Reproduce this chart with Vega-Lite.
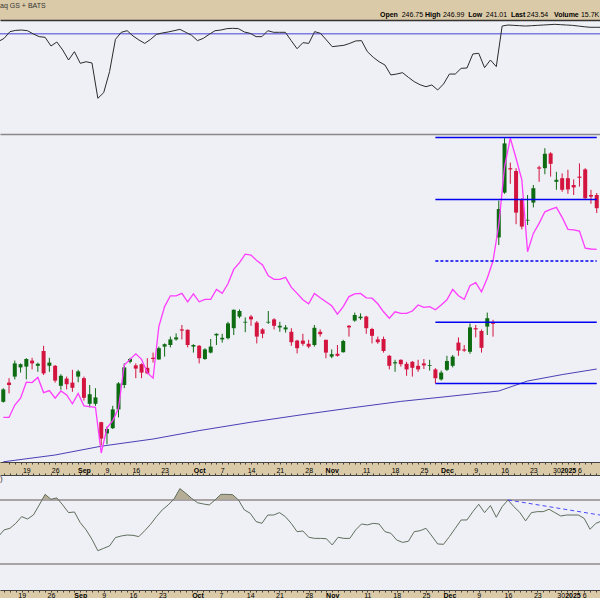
{
"$schema": "https://vega.github.io/schema/vega-lite/v6.json",
"background": "#dacaa8",
"padding": {"left": -1, "top": 0, "right": 0, "bottom": 0},
"config": {"view": {"stroke": null}, "font": "Liberation Sans", "axis": {"grid": false}},
"datasets": {
"days": [
{"i":0,"o":193.3,"h":196.7,"l":193.1,"c":196.4,"rel":189.4,"s":81.0,"r":47.1},
{"i":1,"o":198.1,"h":199.2,"l":195.4,"c":197.5,"rel":189.4,"s":83.9,"r":51.3},
{"i":2,"o":199.6,"h":203.6,"l":198.9,"c":202.9,"rel":192.5,"s":89.8,"r":52.3},
{"i":3,"o":201.9,"h":202.9,"l":200.6,"c":202.7,"rel":194.2,"s":90.9,"r":55.4},
{"i":4,"o":202.1,"h":204.2,"l":198.9,"c":204.0,"rel":198.2,"s":91.2,"r":59.6},
{"i":5,"o":203.6,"h":204.3,"l":201.4,"c":202.9,"rel":198.1,"s":90.6,"r":58.1},
{"i":6,"o":202.3,"h":203.1,"l":200.8,"c":202.8,"rel":199.4,"s":87.7,"r":60.6},
{"i":7,"o":206.0,"h":207.3,"l":200.0,"c":200.4,"rel":195.6,"s":85.4,"r":66.9},
{"i":8,"o":202.3,"h":204.3,"l":200.8,"c":203.1,"rel":196.1,"s":84.8,"r":73.5},
{"i":9,"o":202.3,"h":202.5,"l":198.1,"c":198.6,"rel":194.2,"s":77.2,"r":70.4},
{"i":10,"o":197.3,"h":200.2,"l":196.3,"c":199.8,"rel":196.0,"s":80.7,"r":71.3},
{"i":11,"o":199.1,"h":199.6,"l":196.4,"c":197.7,"rel":195.0,"s":73.7,"r":66.9},
{"i":12,"o":198.1,"h":201.3,"l":195.8,"c":196.8,"rel":192.8,"s":64.9,"r":62.1},
{"i":13,"o":199.6,"h":201.3,"l":198.2,"c":200.9,"rel":195.4,"s":72.2,"r":62.5},
{"i":14,"o":199.2,"h":199.6,"l":193.6,"c":194.3,"rel":192.3,"s":62.0,"r":55.8},
{"i":15,"o":192.8,"h":197.5,"l":191.9,"c":195.2,"rel":192.1,"s":63.4,"r":51.3},
{"i":16,"o":192.8,"h":196.7,"l":192.3,"c":194.4,"rel":191.9,"s":62.3,"r":45.4},
{"i":17,"o":188.2,"h":188.3,"l":182.5,"c":184.1,"rel":180.5,"s":31.3,"r":38.3},
{"i":18,"o":185.4,"h":187.1,"l":182.7,"c":186.5,"rel":186.8,"s":36.3,"r":39.8},
{"i":19,"o":186.7,"h":192.3,"l":186.5,"c":191.4,"rel":188.6,"s":54.7,"r":41.3},
{"i":20,"o":191.4,"h":198.2,"l":189.4,"c":197.9,"rel":191.7,"s":83.0,"r":46.5},
{"i":21,"o":197.5,"h":202.9,"l":196.7,"c":201.9,"rel":202.5,"s":89.2,"r":47.5},
{"i":22,"o":203.3,"h":204.3,"l":202.9,"c":204.0,"rel":203.9,"s":90.6,"r":48.1},
{"i":23,"o":202.4,"h":202.9,"l":199.2,"c":201.6,"rel":205.3,"s":86.0,"r":47.9},
{"i":24,"o":202.7,"h":202.9,"l":199.2,"c":200.6,"rel":203.9,"s":82.5,"r":47.1},
{"i":25,"o":201.8,"h":204.2,"l":200.2,"c":200.4,"rel":200.6,"s":79.5,"r":50.8},
{"i":26,"o":204.3,"h":205.6,"l":203.1,"c":204.0,"rel":199.2,"s":83.0,"r":54.8},
{"i":27,"o":203.9,"h":207.1,"l":203.8,"c":206.7,"rel":212.1,"s":87.4,"r":59.6},
{"i":28,"o":207.1,"h":207.9,"l":204.6,"c":207.7,"rel":217.1,"s":88.6,"r":63.8},
{"i":29,"o":207.5,"h":209.6,"l":206.9,"c":208.9,"rel":219.8,"s":89.5,"r":66.9},
{"i":30,"o":208.9,"h":210.4,"l":208.6,"c":209.4,"rel":219.8,"s":90.6,"r":70.6},
{"i":31,"o":211.4,"h":212.5,"l":208.9,"c":211.1,"rel":220.4,"s":91.8,"r":77.1},
{"i":32,"o":211.3,"h":211.4,"l":206.9,"c":207.5,"rel":218.3,"s":89.2,"r":74.2},
{"i":33,"o":207.1,"h":207.7,"l":205.6,"c":207.5,"rel":220.3,"s":86.6,"r":71.0},
{"i":34,"o":207.3,"h":207.5,"l":202.9,"c":204.2,"rel":218.3,"s":81.9,"r":68.3},
{"i":35,"o":204.0,"h":206.7,"l":203.8,"c":206.4,"rel":218.9,"s":83.9,"r":67.5},
{"i":36,"o":205.6,"h":209.0,"l":205.4,"c":207.1,"rel":218.9,"s":87.4,"r":66.9},
{"i":37,"o":209.9,"h":210.4,"l":207.5,"c":210.3,"rel":221.4,"s":90.6,"r":70.0},
{"i":38,"o":208.9,"h":210.3,"l":208.1,"c":209.3,"rel":220.4,"s":91.2,"r":73.5},
{"i":39,"o":209.2,"h":213.3,"l":208.9,"c":212.9,"rel":222.8,"s":92.4,"r":73.5},
{"i":40,"o":211.7,"h":216.4,"l":210.0,"c":216.3,"rel":226.4,"s":92.7,"r":73.3},
{"i":41,"o":214.6,"h":216.4,"l":214.2,"c":216.0,"rel":228.1,"s":92.4,"r":70.0},
{"i":42,"o":213.1,"h":214.4,"l":210.7,"c":213.3,"rel":230.2,"s":89.5,"r":63.8},
{"i":43,"o":214.6,"h":215.0,"l":212.3,"c":213.9,"rel":230.0,"s":88.3,"r":61.7},
{"i":44,"o":213.1,"h":213.5,"l":207.9,"c":209.6,"rel":228.6,"s":85.4,"r":56.5},
{"i":45,"o":211.4,"h":211.7,"l":209.2,"c":210.3,"rel":227.5,"s":85.4,"r":55.4},
{"i":46,"o":213.1,"h":216.0,"l":212.8,"c":213.3,"rel":224.8,"s":90.6,"r":60.6},
{"i":47,"o":213.9,"h":214.2,"l":211.4,"c":212.3,"rel":223.9,"s":89.2,"r":60.6},
{"i":48,"o":211.9,"h":213.3,"l":210.8,"c":212.3,"rel":223.9,"s":89.2,"r":62.1},
{"i":49,"o":211.4,"h":212.5,"l":210.6,"c":211.9,"rel":224.4,"s":89.2,"r":59.6},
{"i":50,"o":210.8,"h":211.7,"l":207.3,"c":208.2,"rel":221.9,"s":81.9,"r":55.4},
{"i":51,"o":208.6,"h":208.8,"l":205.4,"c":206.7,"rel":220.4,"s":74.8,"r":50.2},
{"i":52,"o":208.6,"h":210.3,"l":207.3,"c":207.8,"rel":218.8,"s":80.1,"r":50.6},
{"i":53,"o":207.8,"h":208.8,"l":206.7,"c":207.1,"rel":217.8,"s":79.5,"r":46.7},
{"i":54,"o":207.5,"h":212.5,"l":207.1,"c":211.8,"rel":220.4,"s":89.8,"r":46.0},
{"i":55,"o":210.8,"h":211.4,"l":209.6,"c":210.2,"rel":219.3,"s":88.3,"r":46.0},
{"i":56,"o":208.8,"h":208.8,"l":204.2,"c":205.6,"rel":218.3,"s":82.5,"r":45.8},
{"i":57,"o":204.6,"h":206.4,"l":204.2,"c":205.2,"rel":217.3,"s":76.6,"r":41.9},
{"i":58,"o":205.3,"h":207.5,"l":204.6,"c":204.8,"rel":215.2,"s":77.2,"r":46.7},
{"i":59,"o":205.7,"h":208.8,"l":205.6,"c":208.5,"rel":217.1,"s":77.8,"r":46.0},
{"i":60,"o":212.3,"h":212.5,"l":209.6,"c":211.9,"rel":219.6,"s":79.5,"r":46.0},
{"i":61,"o":213.6,"h":215.6,"l":213.3,"c":215.0,"rel":220.3,"s":81.6,"r":51.3},
{"i":62,"o":214.2,"h":215.4,"l":213.8,"c":214.6,"rel":220.4,"s":81.9,"r":55.0},
{"i":63,"o":214.6,"h":214.8,"l":210.3,"c":211.7,"rel":219.3,"s":72.2,"r":54.4},
{"i":64,"o":211.5,"h":211.8,"l":207.9,"c":209.8,"rel":219.2,"s":67.3,"r":55.4},
{"i":65,"o":208.9,"h":209.6,"l":207.8,"c":208.2,"rel":217.8,"s":63.4,"r":55.0},
{"i":66,"o":209.0,"h":209.6,"l":205.6,"c":206.0,"rel":215.8,"s":60.5,"r":50.2},
{"i":67,"o":204.8,"h":205.0,"l":201.4,"c":202.3,"rel":214.2,"s":51.8,"r":49.2},
{"i":68,"o":202.9,"h":203.8,"l":200.8,"c":203.2,"rel":215.8,"s":52.6,"r":45.0},
{"i":69,"o":203.8,"h":203.9,"l":202.1,"c":202.7,"rel":215.4,"s":53.8,"r":43.5},
{"i":70,"o":202.8,"h":203.3,"l":199.8,"c":201.4,"rel":215.4,"s":49.7,"r":44.2},
{"i":71,"o":203.3,"h":203.5,"l":199.6,"c":201.8,"rel":216.0,"s":45.9,"r":50.2},
{"i":72,"o":202.3,"h":203.8,"l":200.8,"c":201.4,"rel":217.5,"s":43.2,"r":50.8},
{"i":73,"o":202.9,"h":204.0,"l":201.5,"c":202.4,"rel":216.9,"s":41.5,"r":52.3},
{"i":74,"o":202.3,"h":203.8,"l":201.1,"c":202.5,"rel":217.1,"s":43.0,"r":47.5},
{"i":75,"o":201.4,"h":201.7,"l":197.9,"c":199.2,"rel":216.3,"s":38.6,"r":42.5},
{"i":76,"o":198.9,"h":201.1,"l":198.6,"c":200.6,"rel":217.5,"s":43.9,"r":42.3},
{"i":77,"o":201.3,"h":204.8,"l":201.0,"c":203.5,"rel":218.8,"s":52.6,"r":47.1},
{"i":78,"o":202.3,"h":205.0,"l":201.9,"c":204.6,"rel":221.4,"s":52.6,"r":52.3},
{"i":79,"o":208.1,"h":209.4,"l":204.8,"c":206.1,"rel":219.8,"s":57.6,"r":57.5},
{"i":80,"o":206.4,"h":207.5,"l":205.8,"c":206.1,"rel":218.9,"s":57.9,"r":57.5},
{"i":81,"o":205.8,"h":212.9,"l":205.3,"c":211.9,"rel":222.3,"s":70.2,"r":62.7},
{"i":82,"o":211.7,"h":212.5,"l":209.4,"c":211.4,"rel":223.1,"s":70.8,"r":67.3},
{"i":83,"o":211.0,"h":211.4,"l":205.6,"c":206.8,"rel":220.8,"s":58.2,"r":62.1},
{"i":84,"o":212.1,"h":215.6,"l":210.0,"c":214.2,"rel":224.2,"s":64.9,"r":66.5},
{"i":85,"o":213.1,"h":213.8,"l":209.6,"c":212.8,"rel":228.5,"s":59.1,"r":59.2},
{"i":86,"o":234.4,"h":243.6,"l":232.5,"c":241.5,"rel":237.5,"s":94.7,"r":65.8},
{"i":87,"o":245.6,"h":259.2,"l":245.3,"c":257.9,"rel":252.0,"s":95.6,"r":70.0},
{"i":88,"o":251.7,"h":253.1,"l":247.8,"c":251.4,"rel":259.2,"s":95.3,"r":65.8},
{"i":89,"o":251.0,"h":251.7,"l":237.7,"c":240.6,"rel":254.2,"s":95.0,"r":62.3},
{"i":90,"o":243.8,"h":244.2,"l":236.4,"c":237.1,"rel":248.8,"s":94.7,"r":56.9},
{"i":91,"o":238.6,"h":245.0,"l":237.5,"c":238.8,"rel":230.8,"s":95.0,"r":62.1},
{"i":92,"o":243.1,"h":247.5,"l":241.9,"c":246.7,"rel":235.4,"s":95.3,"r":62.7},
{"i":93,"o":251.9,"h":252.3,"l":248.3,"c":251.6,"rel":237.9,"s":95.6,"r":62.7},
{"i":94,"o":251.7,"h":256.7,"l":250.2,"c":255.3,"rel":240.8,"s":95.9,"r":64.2},
{"i":95,"o":255.4,"h":255.7,"l":249.6,"c":252.8,"rel":241.4,"s":96.2,"r":62.1},
{"i":96,"o":248.3,"h":250.8,"l":246.3,"c":248.8,"rel":241.9,"s":95.9,"r":60.0},
{"i":97,"o":249.2,"h":250.4,"l":245.8,"c":246.3,"rel":239.4,"s":95.6,"r":60.6},
{"i":98,"o":249.2,"h":251.3,"l":245.3,"c":246.4,"rel":236.4,"s":95.3,"r":60.6},
{"i":99,"o":247.5,"h":248.9,"l":245.0,"c":246.9,"rel":236.3,"s":94.7,"r":60.6},
{"i":100,"o":249.6,"h":252.9,"l":247.1,"c":249.3,"rel":236.0,"s":94.1,"r":58.5},
{"i":101,"o":251.4,"h":251.7,"l":243.8,"c":244.2,"rel":231.7,"s":93.6,"r":51.7},
{"i":102,"o":245.0,"h":246.3,"l":242.8,"c":244.6,"rel":231.5,"s":93.6,"r":55.4},
{"i":103,"o":245.0,"h":245.5,"l":240.5,"c":241.7,"rel":231.4,"s":93.6,"r":56.9}
],
"ma": [{"i":0,"ma":178.3},{"i":9,"ma":180.0},{"i":17,"ma":182.2},{"i":26,"ma":184.0},{"i":34,"ma":186.1},{"i":43,"ma":188.2},{"i":52,"ma":190.1},{"i":60,"ma":191.7},{"i":69,"ma":193.4},{"i":77,"ma":194.6},{"i":86,"ma":196.0},{"i":91,"ma":198.5},{"i":97,"ma":200.1},{"i":103,"ma":201.5}],
"levels": [{"p":259.4},{"p":243.9},{"p":213.2},{"p":197.9}],
"mid": [{"p":228.5}],
"ob": [{"r":70},{"r":30}],
"trend": [{"i":87,"r":70.0},{"i":103,"r":60.4}],
"one": [{}]
},
"vconcat": [
{
"width": 600, "height": 20,
"view": {"stroke": null},
"data": {"name": "one"},
"layer": [
{"mark": {"type":"text","align":"left","baseline":"middle","fontSize":7,"color":"#333"},
 "encoding": {"x": {"datum": 0.31, "type":"quantitative","scale":{"domain":[0.3,102.7],"nice":false,"zero":false},"axis":null},
  "y": {"datum": 6, "type":"quantitative","scale":{"domain":[0,20],"reverse":true,"nice":false,"zero":false},"axis":null},
  "text": {"value": "aq GS + BATS"}}},
{"mark": {"type":"text","align":"left","baseline":"middle","fontSize":7,"fontWeight":"bold","color":"#000"},
 "encoding": {"x": {"datum": 65.15, "type":"quantitative"}, "y": {"datum": 15, "type":"quantitative"}, "text": {"value": "Open"}}},
{"mark": {"type":"text","align":"left","baseline":"middle","fontSize":7,"color":"#000"},
 "encoding": {"x": {"datum": 68.86, "type":"quantitative"}, "y": {"datum": 15, "type":"quantitative"}, "text": {"value": "246.75"}}},
{"mark": {"type":"text","align":"left","baseline":"middle","fontSize":7,"fontWeight":"bold","color":"#000"},
 "encoding": {"x": {"datum": 72.83, "type":"quantitative"}, "y": {"datum": 15, "type":"quantitative"}, "text": {"value": "High"}}},
{"mark": {"type":"text","align":"left","baseline":"middle","fontSize":7,"color":"#000"},
 "encoding": {"x": {"datum": 75.9, "type":"quantitative"}, "y": {"datum": 15, "type":"quantitative"}, "text": {"value": "246.99"}}},
{"mark": {"type":"text","align":"left","baseline":"middle","fontSize":7,"fontWeight":"bold","color":"#000"},
 "encoding": {"x": {"datum": 80.2, "type":"quantitative"}, "y": {"datum": 15, "type":"quantitative"}, "text": {"value": "Low"}}},
{"mark": {"type":"text","align":"left","baseline":"middle","fontSize":7,"color":"#000"},
 "encoding": {"x": {"datum": 83.2, "type":"quantitative"}, "y": {"datum": 15, "type":"quantitative"}, "text": {"value": "241.01"}}},
{"mark": {"type":"text","align":"left","baseline":"middle","fontSize":7,"fontWeight":"bold","color":"#000"},
 "encoding": {"x": {"datum": 87.5, "type":"quantitative"}, "y": {"datum": 15, "type":"quantitative"}, "text": {"value": "Last"}}},
{"mark": {"type":"text","align":"left","baseline":"middle","fontSize":7,"color":"#000"},
 "encoding": {"x": {"datum": 90.2, "type":"quantitative"}, "y": {"datum": 15, "type":"quantitative"}, "text": {"value": "243.54"}}},
{"mark": {"type":"text","align":"left","baseline":"middle","fontSize":7,"fontWeight":"bold","color":"#000"},
 "encoding": {"x": {"datum": 94.85, "type":"quantitative"}, "y": {"datum": 15, "type":"quantitative"}, "text": {"value": "Volume"}}},
{"mark": {"type":"text","align":"left","baseline":"middle","fontSize":7,"color":"#000"},
 "encoding": {"x": {"datum": 99.45, "type":"quantitative"}, "y": {"datum": 15, "type":"quantitative"}, "text": {"value": "15.7K"}}}
]
},
{
"width": 600, "height": 114,
"view": {"fill": "#efeff6", "stroke": null},
"resolve": {"axis": {"x": "independent"}},
"layer": [
{"data": {"values": [{"s": 88}]},
 "mark": {"type":"rule","color":"#7c7ce0","strokeWidth":1.5},
 "encoding": {"y": {"field":"s","type":"quantitative","scale":{"domain":[0,100],"nice":false,"zero":false},"axis":null}}},
{"data": {"name": "days"},
 "mark": {"type":"line","color":"#2b2b2b","strokeWidth":1,"clip":true},
 "encoding": {"x": {"field":"i","type":"quantitative","scale":{"domain":[0.3,102.7],"nice":false,"zero":false},
   "axis":{"orient":"top","title":null,"labels":false,"ticks":false,"domain":true,"domainColor":"#333","domainWidth":1.5,"grid":false}},
  "y": {"field":"s","type":"quantitative","scale":{"domain":[0,100],"nice":false,"zero":false},"axis":null}}}
]
},
{
"vconcat": [
{
"width": 600, "height": 328,
"view": {"fill": "#efeff6", "stroke": null},
"resolve": {"axis": {"x": "independent"}},
"layer": [
{"data": {"name": "days"},
 "mark": {"type":"rule","strokeWidth":1,"clip":true},
 "encoding": {
  "x": {"field":"i","type":"quantitative","scale":{"domain":[0.3,102.7],"nice":false,"zero":false},
   "axis": {"orient":"bottom","title":null,"values":[1,2,3,4,5,6,7,8,9,10,11,12,13,14,15,16,17,18,19,20,21,22,23,24,25,26,27,28,29,30,31,32,33,34,35,36,37,38,39,40,41,42,43,44,45,46,47,48,49,50,51,52,53,54,55,56,57,58,59,60,61,62,63,64,65,66,67,68,69,70,71,72,73,74,75,76,77,78,79,80,81,82,83,84,85,86,87,88,89,90,91,92,93,94,95,96,97,98,99,100,101,102],
    "labelExpr": "({'4':'19','9':'26','14':'Sep','18':'9','23':'16','28':'23','34':'Oct','38':'7','43':'14','48':'21','53':'28','57':'Nov','63':'11','68':'18','73':'25','77':'Dec','82':'9','87':'16','92':'23','96':'30','98':'2025','100':'6'})[datum.value] || ''",
    "labelFont":"Liberation Sans","labelFontSize":7,"labelColor":"#000",
    "labelFontWeight": {"condition": {"test": "indexof([14,34,57,77,98], datum.value) >= 0", "value": "bold"}, "value": "normal"},
    "labelPadding":2,"labelFlush":false,"labelOverlap":false,"labelBound":false,
    "tickSize":2,"tickColor":"#444","domainColor":"#444","domainWidth":1.2,"grid":false}},
  "y": {"field":"l","type":"quantitative","scale":{"domain":[178.25,260.25],"nice":false,"zero":false},"axis":null},
  "y2": {"field":"h"},
  "color": {"condition": {"test":"datum.c >= datum.o","value":"#0d6b12"},"value":"#d3143e"}}},
{"data": {"name": "days"},
 "mark": {"type":"bar","size":4,"clip":true},
 "encoding": {
  "x": {"field":"i","type":"quantitative",
   "axis":{"orient":"top","title":null,"labels":false,"ticks":false,"domain":true,"domainColor":"#888","domainWidth":1.5,"grid":false}},
  "y": {"field":"o","type":"quantitative","axis":null},
  "y2": {"field":"c"},
  "color": {"condition": {"test":"datum.c >= datum.o","value":"#0d6b12"},"value":"#d3143e"}}},
{"data": {"name": "ma"},
 "mark": {"type":"line","color":"#4a40b5","strokeWidth":1,"clip":true},
 "encoding": {"x": {"field":"i","type":"quantitative","axis":null},"y": {"field":"ma","type":"quantitative","axis":null}}},
{"data": {"name": "days"},
 "mark": {"type":"line","color":"#ff3cff","strokeWidth":1.3,"clip":true},
 "encoding": {"x": {"field":"i","type":"quantitative","axis":null},"y": {"field":"rel","type":"quantitative","axis":null}}},
{"data": {"name": "levels"},
 "mark": {"type":"rule","color":"#0000f0","strokeWidth":1.5,"clip":true},
 "encoding": {"x": {"datum":75,"type":"quantitative","axis":null},"x2": {"datum":103},"y": {"field":"p","type":"quantitative","axis":null}}},
{"data": {"name": "mid"},
 "mark": {"type":"rule","color":"#0000f0","strokeWidth":1.5,"strokeDash":[3,2],"clip":true},
 "encoding": {"x": {"datum":75,"type":"quantitative","axis":null},"x2": {"datum":103},"y": {"field":"p","type":"quantitative","axis":null}}}
]
},
{
"width": 600, "height": 115,
"view": {"fill": "#efeff6", "stroke": null},
"resolve": {"axis": {"x": "independent"}},
"layer": [
{"data": {"name": "days"},
 "mark": {"type":"area","color":"#b5ad96","opacity":1,"clip":true},
 "encoding": {
  "x": {"field":"i","type":"quantitative","scale":{"domain":[0.3,102.7],"nice":false,"zero":false},
   "axis": {"orient":"top","title":null,"values":[1,2,3,4,5,6,7,8,9,10,11,12,13,14,15,16,17,18,19,20,21,22,23,24,25,26,27,28,29,30,31,32,33,34,35,36,37,38,39,40,41,42,43,44,45,46,47,48,49,50,51,52,53,54,55,56,57,58,59,60,61,62,63,64,65,66,67,68,69,70,71,72,73,74,75,76,77,78,79,80,81,82,83,84,85,86,87,88,89,90,91,92,93,94,95,96,97,98,99,100,101,102],
    "labels":false,"domain":true,"domainColor":"#444","domainWidth":1.2,"tickSize":2,"tickColor":"#444","grid":false}},
  "y": {"field":"r","type":"quantitative","scale":{"domain":[13.75,85.6],"nice":false,"zero":false},"axis":null},
  "y2": {"datum":70}}},
{"data": {"name": "one"},
 "mark": {"type":"rect","color":"#efeff6","clip":true},
 "encoding": {"x": {"datum":0.3,"type":"quantitative","axis":null},"x2": {"datum":102.7},
  "y": {"datum":70,"type":"quantitative","axis":null},"y2": {"datum":13.75}}},
{"data": {"name": "ob"},
 "mark": {"type":"rule","color":"#aaa3a3","strokeWidth":2},
 "encoding": {"y": {"field":"r","type":"quantitative","axis":null}}},
{"data": {"name": "days"},
 "mark": {"type":"line","color":"#5f6f5c","strokeWidth":1,"clip":true},
 "encoding": {
  "x": {"field":"i","type":"quantitative",
   "axis": {"orient":"bottom","title":null,"values":[1,2,3,4,5,6,7,8,9,10,11,12,13,14,15,16,17,18,19,20,21,22,23,24,25,26,27,28,29,30,31,32,33,34,35,36,37,38,39,40,41,42,43,44,45,46,47,48,49,50,51,52,53,54,55,56,57,58,59,60,61,62,63,64,65,66,67,68,69,70,71,72,73,74,75,76,77,78,79,80,81,82,83,84,85,86,87,88,89,90,91,92,93,94,95,96,97,98,99,100,101,102],
    "labelExpr": "({'4':'19','9':'26','14':'Sep','18':'9','23':'16','28':'23','34':'Oct','38':'7','43':'14','48':'21','53':'28','57':'Nov','63':'11','68':'18','73':'25','77':'Dec','82':'9','87':'16','92':'23','96':'30','98':'2025','100':'6'})[datum.value] || ''",
    "labelFont":"Liberation Sans","labelFontSize":7,"labelColor":"#000",
    "labelFontWeight": {"condition": {"test": "indexof([14,34,57,77,98], datum.value) >= 0", "value": "bold"}, "value": "normal"},
    "labelPadding":-1,"labelFlush":false,"labelOverlap":false,"labelBound":false,
    "tickSize":2,"tickColor":"#444","domainColor":"#444","domainWidth":1.2,"grid":false}},
  "y": {"field":"r","type":"quantitative","axis":null}}},
{"data": {"name": "trend"},
 "mark": {"type":"line","color":"#4a4aff","strokeWidth":1,"strokeDash":[4,3],"clip":true},
 "encoding": {"x": {"field":"i","type":"quantitative","axis":null},"y": {"field":"r","type":"quantitative","axis":null}}},
{"data": {"name": "one"},
 "mark": {"type":"text","align":"left","baseline":"middle","fontSize":8,"color":"#333"},
 "encoding": {"x": {"datum":0.3,"type":"quantitative","axis":null},"y": {"datum":83.2,"type":"quantitative","axis":null},"text": {"value": ")"}}}
]
}
],
"spacing": 13,
"bounds": "flush",
"resolve": {"scale": {"x": "independent", "y": "independent"}}
}
],
"spacing": 0,
"bounds": "flush",
"resolve": {"scale": {"x": "independent", "y": "independent"}}
}
